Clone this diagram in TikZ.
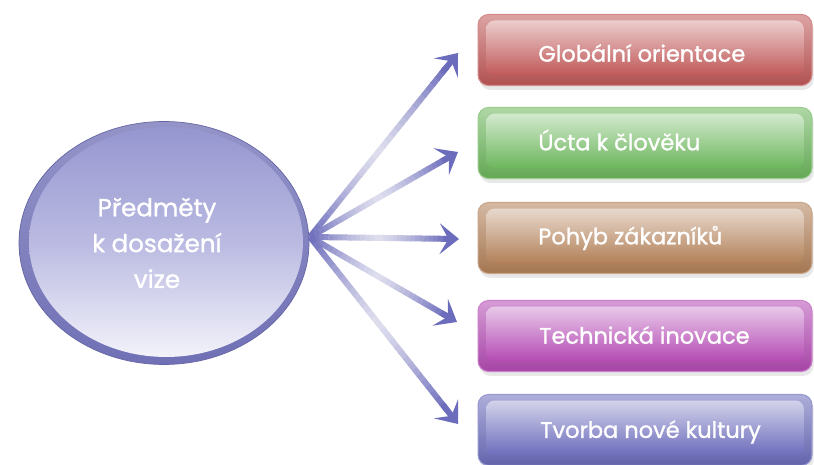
\documentclass[tikz,border=0pt]{standalone}
\usepackage{fontspec}
\setmainfont{Poppins}
\newfontfamily\lblfont{Poppins}[FakeBold=1.2]
\usetikzlibrary{shapes.geometric,arrows.meta,calc,shadows}
\definecolor{rimc}{RGB}{112,112,182}
\definecolor{circtop}{RGB}{150,150,208}
\definecolor{circmid}{RGB}{186,186,226}
\definecolor{circbot}{RGB}{242,242,250}
\definecolor{arrdark}{RGB}{108,108,188}
\definecolor{arrlight}{RGB}{222,222,238}
\definecolor{cred}{RGB}{192,88,88}
\definecolor{cgreen}{RGB}{108,182,92}
\definecolor{ctan}{RGB}{178,128,88}
\definecolor{cmag}{RGB}{180,74,180}
\definecolor{cblue}{RGB}{108,108,188}
\tikzset{
  outerbox/.style={rounded corners=6pt, minimum width=6.68cm, minimum height=1.42cm, inner sep=0pt,
    top color=#1!55!white, bottom color=#1!92!black, draw=#1!70!white, line width=0.6pt,
    drop shadow={opacity=0.18, shadow xshift=1pt, shadow yshift=-2.5pt}},
  innerbox/.style={rounded corners=5pt, minimum width=6.36cm, minimum height=1.1cm, inner sep=0pt,
    top color=#1!30!white, bottom color=#1},
  boxtext/.style={anchor=west, text=white, font=\lblfont\fontsize{12.8pt}{14pt}\selectfont, inner sep=0pt},
  circtext/.style={text=white, align=center, font=\lblfont\fontsize{14pt}{20.4pt}\selectfont, inner sep=0pt},
}
\newcommand{\mkarrow}[2]{%
  \foreach \k in {0,...,29}{%
    \pgfmathsetmacro\m{100*abs(2*(\k+0.5)/30-1)^1.3}%
    \pgfmathsetmacro\fa{\k/30*0.92}%
    \pgfmathsetmacro\fb{(\k+1)/30*0.92+0.003}%
    \draw[line width=0.12cm, arrdark!\m!arrlight] ($(#1)!\fa!(#2)$) -- ($(#1)!\fb!(#2)$);
  }%
  \draw[line width=0.12cm, arrdark, -{Stealth[length=11pt, width=17.5pt, inset=5pt]}] ($(#1)!0.9!(#2)$) -- (#2);
}
\begin{document}
\begin{tikzpicture}[x=0.02cm,y=-0.02cm]
\useasboundingbox (0,0) rectangle (814,465);
\fill[white] (0,0) rectangle (814,465);

% central ellipse
\node[ellipse, inner sep=0pt, minimum width=5.8cm, minimum height=4.86cm,
  top color=rimc!75!white, bottom color=rimc, draw=rimc!90!black, line width=0.4pt] (c) at (164,243) {};
\node[ellipse, inner sep=0pt, minimum width=5.48cm, minimum height=4.6cm,
  top color=circtop, bottom color=circbot, middle color=circmid] (ci) at (166,242) {};
\node[circtext] (ct) at (157,243) {Předměty\\k dosažení\\vize};

% targets
\coordinate (o) at (310,237);
\coordinate (t1) at (458,53);
\coordinate (t2) at (458,152);
\coordinate (t3) at (459,239);
\coordinate (t4) at (457,322);
\coordinate (t5) at (458,424);
\mkarrow{o}{t1}
\mkarrow{o}{t2}
\mkarrow{o}{t3}
\mkarrow{o}{t4}
\mkarrow{o}{t5}

% boxes
\node[outerbox=cred] (b1) at (645,50) {};
\node[innerbox=cred] (i1) at (645,48) {};
\node[boxtext] (x1) at (538,53) {Globální orientace};

\node[outerbox=cgreen] (b2) at (645,143) {};
\node[innerbox=cgreen] (i2) at (645,141) {};
\node[boxtext] (x2) at (538,140) {Úcta k člověku};

\node[outerbox=ctan] (b3) at (645,238) {};
\node[innerbox=ctan] (i3) at (645,236) {};
\node[boxtext] (x3) at (538,238) {Pohyb zákazníků};

\node[outerbox=cmag] (b4) at (645,336) {};
\node[innerbox=cmag] (i4) at (645,334) {};
\node[boxtext] (x4) at (539,335) {Technická inovace};

\node[outerbox=cblue] (b5) at (645,430) {};
\node[innerbox=cblue] (i5) at (645,428) {};
\node[boxtext] (x5) at (540,432) {Tvorba nové kultury};
\end{tikzpicture}
\end{document}
